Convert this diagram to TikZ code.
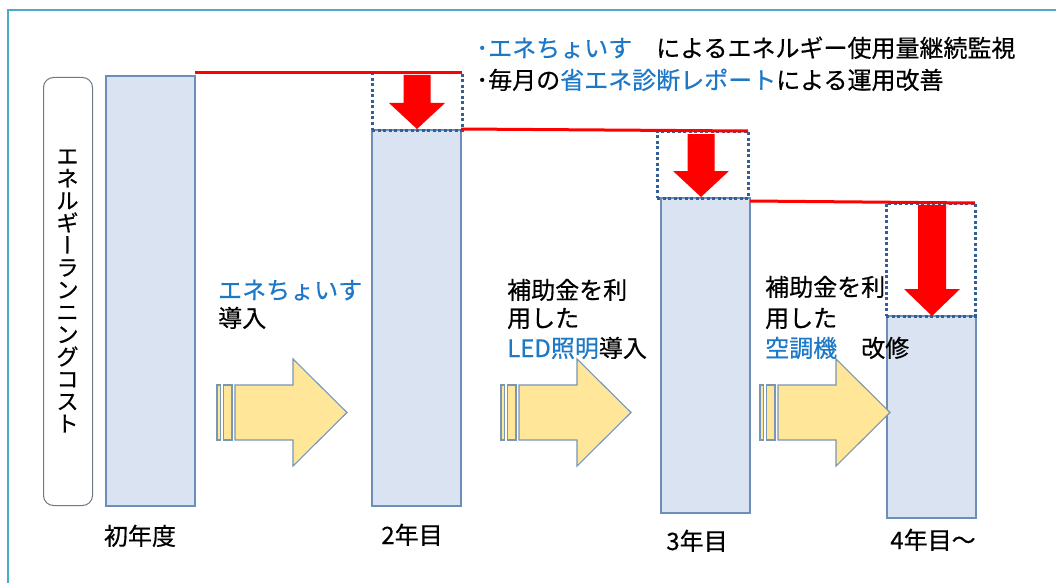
\documentclass[tikz,border=0pt]{standalone}
\usepackage{fontspec}
\setmainfont{Noto Sans CJK JP}[FakeBold=0.5]
\newfontfamily\vfont[RawFeature=+vert,FakeBold=0.5]{Noto Sans CJK JP}
\definecolor{framec}{RGB}{75,172,198}
\definecolor{barfill}{RGB}{218,227,242}
\definecolor{barline}{RGB}{110,142,186}
\definecolor{dotc}{RGB}{50,95,150}
\definecolor{yelfill}{RGB}{255,230,153}
\definecolor{yelline}{RGB}{120,150,182}
\definecolor{tblue}{RGB}{30,120,200}
\definecolor{lblline}{RGB}{110,120,135}
\newcommand\RedDown[5]{% cx, top, headstart, tip, shaft half width
  \fill[red] ({#1-#5},#2) -- ({#1+#5},#2) -- ({#1+#5},#3) -- ({#1+28},#3) -- (#1,#4) -- ({#1-28},#3) -- ({#1-#5},#3) -- cycle;}
\newcommand\YelArrow[1]{%
  \draw[yarrow] (#1,385) rectangle ({#1+3.5},440);
  \draw[yarrow] ({#1+6.5},385) rectangle ({#1+15},440);
  \draw[yarrow] ({#1+18},385) -- ({#1+76},385) -- ({#1+76},359) -- ({#1+130},412.5) -- ({#1+76},466) -- ({#1+76},440) -- ({#1+18},440) -- cycle;}
\begin{document}
\begin{tikzpicture}[x=1pt,y=-1pt,
  bar/.style={draw=barline,fill=barfill,line width=1.2pt,inner sep=0pt,outer sep=0pt,anchor=north west},
  dotbox/.style={draw=dotc,line width=3pt,dash pattern=on 3pt off 2.5pt,inner sep=0pt,outer sep=0pt,anchor=north west},
  redline/.style={draw=red,line width=3pt},
  yarrow/.style={draw=yelline,fill=yelfill,line width=1.1pt,line join=miter},
  txt/.style={inner sep=0pt,anchor=base west,font=\fontsize{24}{29}\selectfont},
  ytxt/.style={inner sep=0pt,anchor=base,font=\fontsize{24}{29}\selectfont},
  lbl/.style={draw=lblline,line width=1pt,rounded corners=10pt,inner sep=0pt,anchor=north west}]
\useasboundingbox (0,0) rectangle (1056,583);
\fill[white] (0,0) rectangle (1056,583);
\draw[framec,line width=1.5pt] (8,583) -- (8,10) -- (1056,10);
% label box
\node[lbl,minimum width=49pt,minimum height=428pt] (lab) at (43,77) {};
\node[inner sep=0pt,align=center,font=\fontsize{22}{22.3}\selectfont] (labt) at (67.5,291)
  {エ\\ネ\\ル\\ギ\\{\vfont ー}\\ラ\\ン\\ニ\\ン\\グ\\コ\\ス\\ト};
% bars
\node[bar,minimum width=89pt,minimum height=430pt] (b1) at (106,76) {};
\node[bar,minimum width=89pt,minimum height=376pt] (b2) at (372,130) {};
\node[bar,minimum width=89pt,minimum height=315pt] (b3) at (661,198) {};
\node[bar,minimum width=89pt,minimum height=202pt] (b4) at (887,316) {};
% dotted boxes
\node[dotbox,minimum width=90pt,minimum height=57pt] (d2) at (372,73) {};
\node[dotbox,minimum width=91pt,minimum height=67pt] (d3) at (657,131) {};
\node[dotbox,minimum width=89pt,minimum height=113pt] (d4) at (886,203) {};
% red level lines
\coordinate (r1a) at (195,73);
\coordinate (r2a) at (461,129);
\coordinate (r3a) at (750,201);
\draw[redline] (r1a) -- (d2.north east);
\draw[redline] (r2a) -- (d3.north east);
\draw[redline] (r3a) -- (d4.north east);
% red down arrows
\RedDown{417}{75}{103}{129}{13.5}
\RedDown{701}{134}{171}{197}{13.5}
\RedDown{932}{205}{289}{316}{14}
% yellow arrows
\YelArrow{217}
\YelArrow{501}
\YelArrow{760}
% top texts
\node[txt] (t1) at (476,57) {\textcolor{tblue}{･エネちょいす}　によるエネルギー使用量継続監視};
\node[txt] (t2) at (476,89) {･毎月の\textcolor{tblue}{省エネ診断レポート}による運用改善};
% step texts
\node[txt] (s1a) at (218,299) {\textcolor{tblue}{エネちょいす}};
\node[txt] (s1b) at (218,327) {導入};
\node[txt] (s2a) at (507,299) {補助金を利};
\node[txt] (s2b) at (507,327) {用した};
\node[txt] (s2c) at (507,357) {\textcolor{tblue}{LED照明}導入};
\node[txt] (s3a) at (765,296) {補助金を利};
\node[txt] (s3b) at (765,327) {用した};
\node[txt] (s3c) at (765,357) {\textcolor{tblue}{空調機}　改修};
% year labels
\node[ytxt] (y1) at (140,545) {初年度};
\node[ytxt] (y2) at (412,544) {2年目};
\node[ytxt] (y3) at (697,550) {3年目};
\node[ytxt] (y4) at (933,549) {4年目～};
\end{tikzpicture}
\end{document}
